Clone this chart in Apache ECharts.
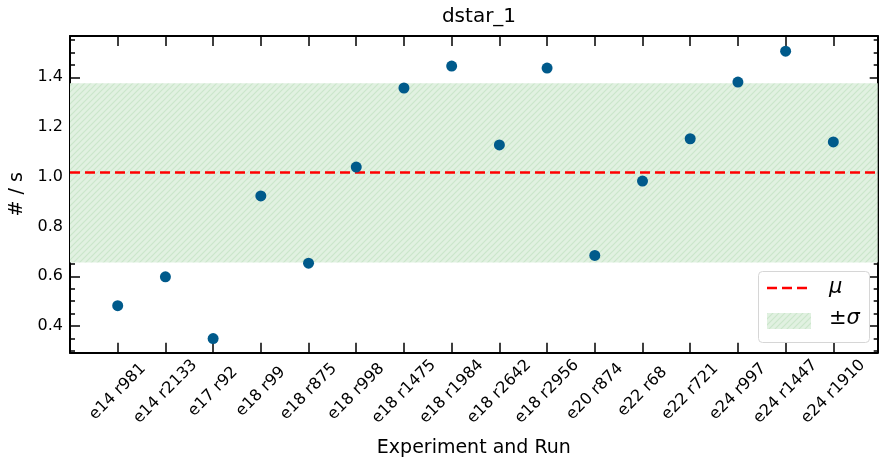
<!DOCTYPE html>
<html>
<head>
<meta charset="utf-8">
<script src="https://cdn.jsdelivr.net/npm/echarts@6/dist/echarts.min.js"></script>
<style>html,body{margin:0;padding:0;background:#fff;}#chart{width:879px;height:462px;}</style>
</head>
<body>
<div id="chart"></div>
<script>
var categories = ['e14 r981','e14 r2133','e17 r92','e18 r99','e18 r875','e18 r998','e18 r1475','e18 r1984','e18 r2642','e18 r2956','e20 r874','e22 r68','e22 r721','e24 r997','e24 r1447','e24 r1910'];
var rates = [0.482,0.598,0.350,0.923,0.653,1.039,1.357,1.445,1.128,1.437,0.684,0.983,1.153,1.381,1.505,1.140];
var mu = 1.016;
var sigma = 0.36;
var yTicks = [0.4,0.6,0.8,1.0,1.2,1.4];

var FONT = '"DejaVu Sans", sans-serif';

function hatch() {
  var c = document.createElement('canvas');
  c.width = 6; c.height = 6;
  var g = c.getContext('2d');
  g.fillStyle = '#e1f1e1';
  g.fillRect(0,0,6,6);
  g.strokeStyle = '#cbe6cb';
  g.lineWidth = 1.2;
  g.beginPath();
  g.moveTo(-1,7); g.lineTo(7,-1);
  g.moveTo(-1,1); g.lineTo(1,-1);
  g.moveTo(5,7); g.lineTo(7,5);
  g.stroke();
  return c;
}
var pat = hatch();

var chart = echarts.init(document.getElementById('chart'), null, {renderer:'canvas'});
var pts = rates.map(function(v,i){return [i,v];});
var xMin = -1, xMax = 15.93, yMin = 0.293, yMax = 1.566;

var black = {color:'#000', width:1.5};
function isTick(v){ return yTicks.some(function(t){return Math.abs(t-v)<1e-6;}); }

function yAx(pos, major, withLabels, len) {
  var a = {
    type:'value', min:yMin, max:yMax, position:pos,
    minInterval: major ? 0.2 : 0.05, maxInterval: major ? 0.2 : 0.05,
    axisLine:{show: major, onZero:false, lineStyle:{color:'#000', width:2}},
    axisTick:{show:true, inside:true, length:len, lineStyle:black},
    splitLine:{show:false},
    axisLabel:{show:false}
  };
  if (withLabels) {
    a.name = '# / s'; a.nameLocation = 'middle'; a.nameGap = 37; a.nameRotate = 90;
    a.nameTextStyle = {fontFamily:FONT, fontSize:19, color:'#000'};
    a.axisLabel = {show:true, margin:7, fontFamily:FONT, fontSize:16, color:'#000',
      formatter:function(v){ return isTick(v) ? v.toFixed(1) : ''; }};
  }
  return a;
}

chart.setOption({
  animation:false,
  title:{text:'dstar_1', left:474, top:2, textAlign:'center',
    textStyle:{fontFamily:FONT, fontSize:20, fontWeight:'normal', color:'#000'}},
  grid:{left:70, right:1.3, top:36, bottom:109.3, containLabel:false, outerBoundsMode:'none'},
  xAxis:[{
    type:'value', min:xMin, max:xMax, interval:1, position:'bottom',
    name:'Experiment and Run', nameLocation:'middle', nameGap:86,
    nameTextStyle:{fontFamily:FONT, fontSize:19, color:'#000'},
    axisLine:{show:true, onZero:false, lineStyle:{color:'#000', width:2}},
    axisTick:{show:true, inside:true, length:10, lineStyle:black},
    splitLine:{show:false},
    axisLabel:{rotate:45, align:'center', verticalAlign:'middle', margin:39, showMaxLabel:false,
      fontFamily:FONT, fontSize:16, color:'#000',
      formatter:function(v){var i=Math.round(v); return (i>=0 && i<categories.length && Math.abs(v-i)<1e-6)?categories[i]:'';}}
  },{
    type:'value', min:xMin, max:xMax, interval:1, position:'top',
    axisLine:{show:true, onZero:false, lineStyle:{color:'#000', width:2}},
    axisTick:{show:true, inside:true, length:10, lineStyle:black},
    axisLabel:{show:false}, splitLine:{show:false}
  }],
  yAxis:[
    yAx('left', true, true, 10),
    yAx('left', false, false, 5),
    yAx('right', true, false, 8),
    yAx('right', false, false, 4)
  ],
  series:[{
    type:'scatter', xAxisIndex:0, yAxisIndex:0, data:pts, symbolSize:11,
    itemStyle:{color:'#005a8b', opacity:1}, z:5,
    markArea:{silent:true, itemStyle:{color:{image:pat, repeat:'repeat'}, opacity:1},
      data:[[{yAxis:mu-sigma},{yAxis:mu+sigma}]], z:1},
    markLine:{silent:true, symbol:['none','none'], label:{show:false},
      lineStyle:{color:'#ff0000', width:2.6, type:[10,5]},
      data:[{yAxis:mu}]}
  }],
  graphic:[
    {type:'rect', left:758, top:271, shape:{width:111, height:71, r:4},
      style:{fill:'rgba(255,255,255,0.85)', stroke:'#d6d6d6', lineWidth:1}, z:100},
    {type:'line', shape:{x1:767, y1:288, x2:810, y2:288},
      style:{stroke:'#ff0000', lineWidth:2.6, lineDash:[10,5]}, z:101},
    {type:'rect', shape:{x:767, y:313, width:44, height:16},
      style:{fill:{image:pat, repeat:'repeat'}}, z:101},
    {type:'text', left:829, top:277, style:{text:'μ', font:'italic 21px '+FONT, fill:'#000'}, z:101},
    {type:'text', left:829, top:308, style:{text:'{a|±}{b|σ}', rich:{
      a:{fontFamily:FONT, fontSize:21, fill:'#000'},
      b:{fontFamily:FONT, fontSize:21, fontStyle:'italic', fill:'#000'}}}, z:101}
  ]
});
</script>
</body>
</html>
